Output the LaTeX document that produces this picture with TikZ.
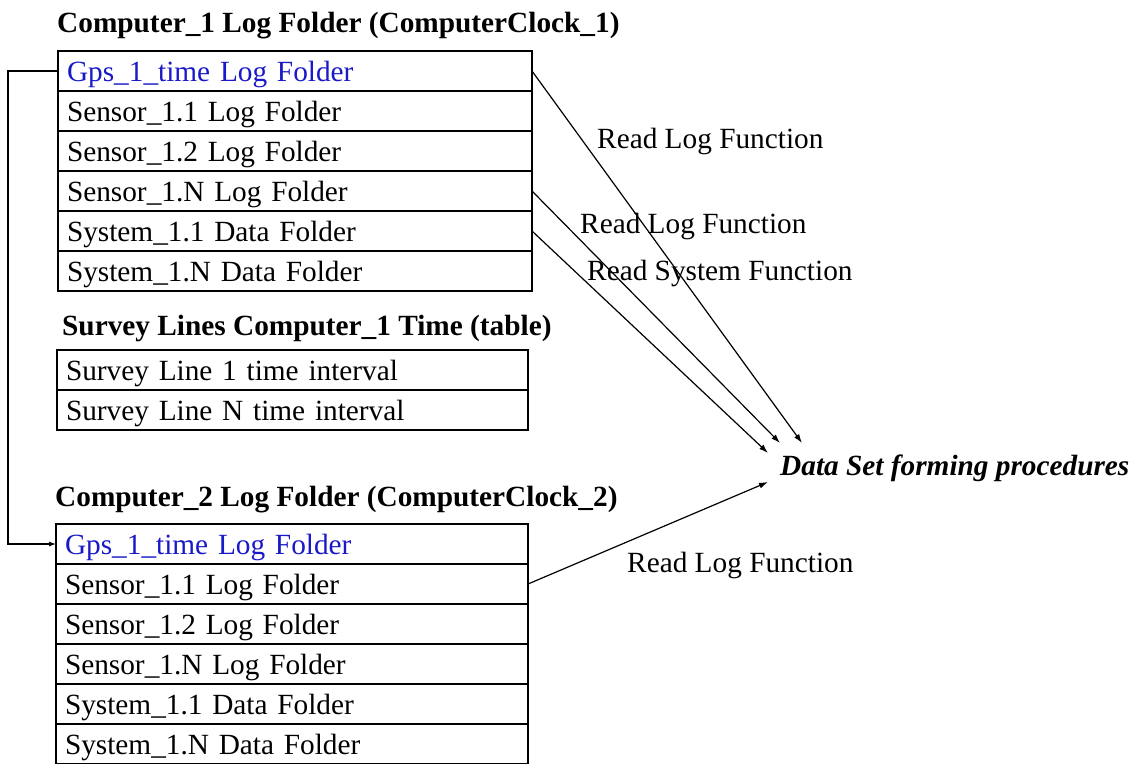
\documentclass[tikz,border=0pt]{standalone}
\usepackage{fontspec}
\setmainfont{Liberation Serif}
\usetikzlibrary{arrows.meta}
\definecolor{gpsblue}{RGB}{25,25,200}
\newcommand{\figsize}{\fontsize{29.3}{35}\selectfont}
\tikzset{
  row/.style={draw, line width=1.6pt, outer sep=0pt, inner xsep=9pt, inner ysep=0pt,
    minimum height=40pt, text width=#1, align=left, anchor=north west,
    text height=24pt, text depth=4pt},
  title/.style={anchor=base west, inner sep=0pt, font=\figsize\bfseries},
  lbl/.style={anchor=base west, inner sep=0pt},
  flow/.style={line width=1.2pt, -{Latex[length=9pt,width=6pt]}}
}
\begin{document}
\begin{tikzpicture}[x=1pt, y=-1pt, font=\figsize]
        \useasboundingbox (0,0) rectangle (1142,763);

        % computer 1
        \node[title] (t1) at (57,32) {Computer\_1 Log Folder (ComputerClock\_1)};
        \node[row=456pt, text=gpsblue] (c1-0) at (58,51) {Gps\_1\_time Log Folder};
        \foreach \i / \name in {1/Sensor\_1.1 Log Folder, 2/Sensor\_1.2 Log Folder, 3/Sensor\_1.N Log Folder, 4/System\_1.1 Data Folder, 5/System\_1.N Data Folder}
            \node[row=456pt] (c1-\i) at (58, 51+40*\i) {\name};

        % survey table
        \node[title] (t2) at (62,335) {Survey Lines Computer\_1 Time (table)};
        \foreach \i / \name in {0/Survey Line 1 time interval, 1/Survey Line N time interval}
            \node[row=453pt] (s-\i) at (57, 350+40*\i) {\name};

        % computer 2
        \node[title] (t3) at (55,506) {Computer\_2 Log Folder (ComputerClock\_2)};
        \node[row=454pt, text=gpsblue] (c2-0) at (56,524) {Gps\_1\_time Log Folder};
        \foreach \i / \name in {1/Sensor\_1.1 Log Folder, 2/Sensor\_1.2 Log Folder, 3/Sensor\_1.N Log Folder, 4/System\_1.1 Data Folder, 5/System\_1.N Data Folder}
            \node[row=454pt] (c2-\i) at (56, 524+40*\i) {\name};

        \node[lbl, font=\figsize\bfseries\itshape] (dataset) at (780,475) {Data Set forming procedures};
        \coordinate (tip-a) at (802,443);
        \coordinate (tip-b) at (780,443);
        \coordinate (tip-c) at (768,453);
        \coordinate (tip-d) at (768,482);

        \node[lbl] (read-1) at (597,148) {Read Log Function};
        \node[lbl] (read-2) at (580,233) {Read Log Function};
        \node[lbl] (read-3) at (587,280) {Read System Function};
        \node[lbl] (read-4) at (627,572) {Read Log Function};

        \draw[flow] (c1-0.east) -- (tip-a);
        \draw[flow] (c1-3.east) -- (tip-b);
        \draw[flow] (c1-4.east) -- (tip-c);
        \draw[flow] (c2-1.east) -- (tip-d);
        \draw[flow, -{Latex[length=7pt,width=5pt]}] (c1-0.west) -- ++(-50,0) |- (c2-0.west);

    \end{tikzpicture}
\end{document}
